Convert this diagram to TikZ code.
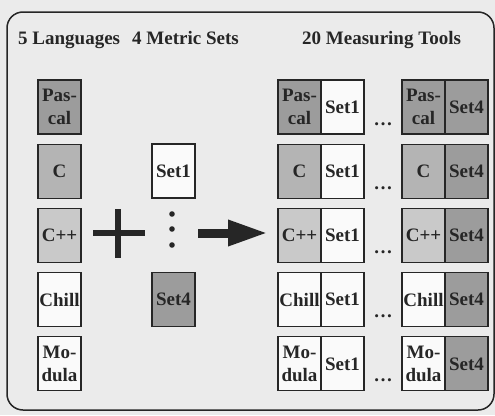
\documentclass[tikz,border=0pt]{standalone}
\usepackage{fontspec}
\setmainfont{Liberation Serif}
\usetikzlibrary{arrows.meta,positioning}
\definecolor{paper}{HTML}{EBEBEB}
\definecolor{darkcell}{HTML}{9C9C9C}
\definecolor{midcell}{HTML}{B4B4B4}
\definecolor{lightcell}{HTML}{C9C9C9}
\definecolor{whitecell}{HTML}{FAFAFA}
\definecolor{ink}{HTML}{262626}
\tikzset{
  cell/.style={draw=ink, line width=1.1pt, outer sep=0pt, inner sep=0pt,
    minimum width=43pt, minimum height=54pt, align=center, text=ink,
    font=\fontsize{19}{23}\selectfont\bfseries},
  heading/.style={anchor=base west, inner sep=0pt, text=ink,
    font=\fontsize{19}{23}\selectfont\bfseries},
}
\begin{document}
\begin{tikzpicture}[x=1pt,y=-1pt]
 \fill[paper] (0,0) rectangle (495,415);
 \draw[ink, line width=1.5pt, rounded corners=16pt] (7,12) rectangle (494,410);
 \node[heading] (langs) at (18,44) {5 Languages};
 \node[heading] (metrics) at (132,44) {4 Metric Sets};
 \node[heading] (tools) at (302,44) {20 Measuring Tools};

 \foreach \name/\txt/\col [count=\i from 0] in
   {pascal/{Pas-\\cal}/darkcell, c/C/midcell, cpp/C++/lightcell,
    chill/Chill/whitecell, modula/{Mo-\\dula}/whitecell}{
   \node[cell, fill=\col] (\name) at (59.5,107+64.2*\i) {\txt};
   \node[cell, fill=\col] (\name-a) at (299.5,107+64.2*\i) {\txt};
   \node[cell, fill=whitecell, right=0pt of \name-a] (\name-seta) {Set1};
   \node[cell, fill=\col] (\name-b) at (423.5,107+64.2*\i) {\txt};
   \node[cell, fill=darkcell, right=0pt of \name-b] (\name-setb) {Set4};
   \node[anchor=base, inner sep=0pt, text=ink, font=\fontsize{19}{23}\selectfont\bfseries]
     (\name-dots) at (383,125+64.2*\i) {\dots};
 }

 \node[cell, fill=whitecell] (setone) at (173.5,171) {Set1};
 \node[cell, fill=darkcell] (setfour) at (173.5,299.5) {Set4};

 \draw[ink, line width=6pt] (93,233) -- (145,233);
 \draw[ink, line width=6pt] (118,209) -- (118,258);
 \foreach \y in {214,229,245}{
   \fill[ink] (172,\y) circle (2.8pt);
 }

 \coordinate (arrowtail) at (198,233);
 \coordinate (arrowtip) at (268,233);
 \draw[ink, line width=9pt, -{Triangle[length=40pt,width=24pt]}] (arrowtail) -- (arrowtip);
\end{tikzpicture}
\end{document}
